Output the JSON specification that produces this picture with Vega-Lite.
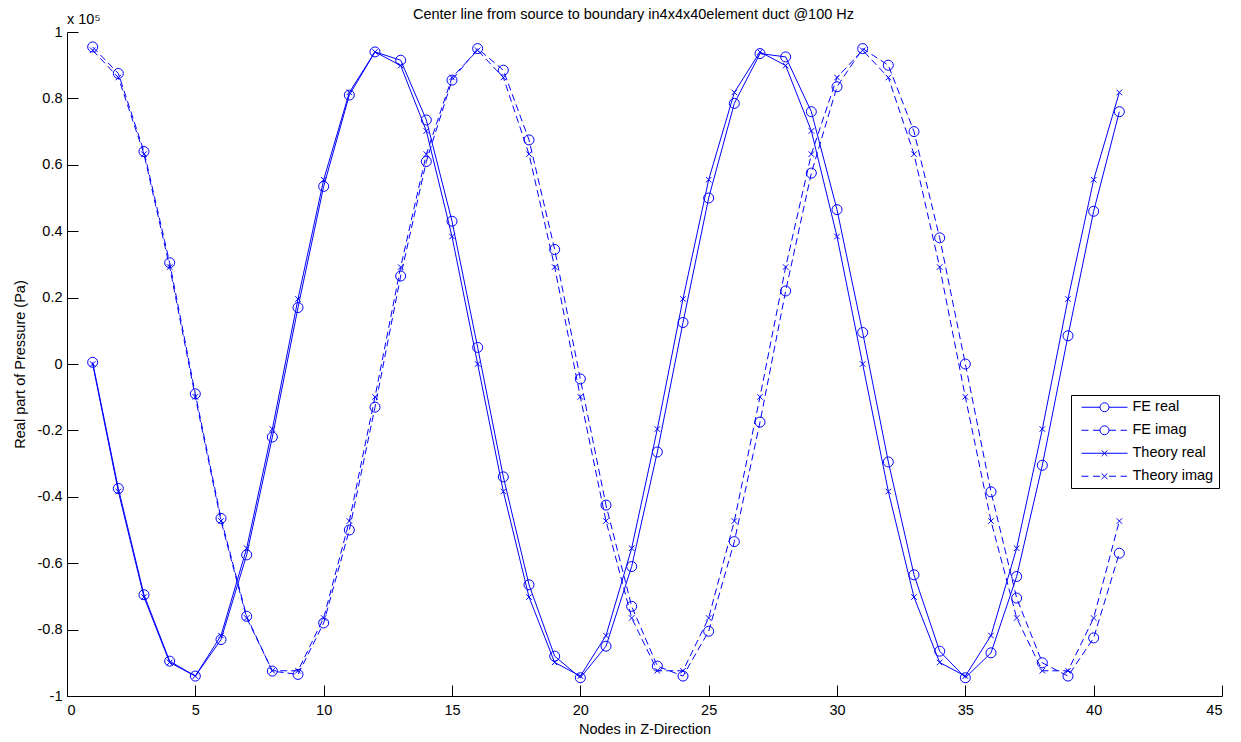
{
  "$schema": "https://vega.github.io/schema/vega-lite/v6.json",
  "autosize": "none",
  "width": 1155,
  "height": 664,
  "padding": {"left": 67, "top": 32, "right": 19, "bottom": 46},
  "background": "white",
  "title": {"text": "Center line from source to boundary in4x4x40element duct @100 Hz", "font": "Liberation Sans", "fontSize": 14.5, "fontWeight": "normal", "color": "black", "baseline": "alphabetic", "offset": -21, "dx": -11},
  "data": {"values": [
    {"node": 1, "FE real": 0.005, "FE imag": 0.955, "Theory real": 0.0, "Theory imag": 0.945},
    {"node": 2, "FE real": -0.375, "FE imag": 0.875, "Theory real": -0.384, "Theory imag": 0.863},
    {"node": 3, "FE real": -0.695, "FE imag": 0.64, "Theory real": -0.702, "Theory imag": 0.632},
    {"node": 4, "FE real": -0.895, "FE imag": 0.305, "Theory real": -0.899, "Theory imag": 0.292},
    {"node": 5, "FE real": -0.94, "FE imag": -0.09, "Theory real": -0.94, "Theory imag": -0.099},
    {"node": 6, "FE real": -0.83, "FE imag": -0.465, "Theory real": -0.818, "Theory imag": -0.473},
    {"node": 7, "FE real": -0.575, "FE imag": -0.76, "Theory real": -0.555, "Theory imag": -0.765},
    {"node": 8, "FE real": -0.22, "FE imag": -0.925, "Theory real": -0.196, "Theory imag": -0.924},
    {"node": 9, "FE real": 0.17, "FE imag": -0.935, "Theory real": 0.196, "Theory imag": -0.924},
    {"node": 10, "FE real": 0.535, "FE imag": -0.78, "Theory real": 0.555, "Theory imag": -0.765},
    {"node": 11, "FE real": 0.81, "FE imag": -0.5, "Theory real": 0.818, "Theory imag": -0.473},
    {"node": 12, "FE real": 0.94, "FE imag": -0.13, "Theory real": 0.94, "Theory imag": -0.099},
    {"node": 13, "FE real": 0.915, "FE imag": 0.265, "Theory real": 0.899, "Theory imag": 0.292},
    {"node": 14, "FE real": 0.735, "FE imag": 0.61, "Theory real": 0.702, "Theory imag": 0.632},
    {"node": 15, "FE real": 0.43, "FE imag": 0.855, "Theory real": 0.384, "Theory imag": 0.863},
    {"node": 16, "FE real": 0.05, "FE imag": 0.95, "Theory real": 0.0, "Theory imag": 0.945},
    {"node": 17, "FE real": -0.34, "FE imag": 0.885, "Theory real": -0.384, "Theory imag": 0.863},
    {"node": 18, "FE real": -0.665, "FE imag": 0.675, "Theory real": -0.702, "Theory imag": 0.632},
    {"node": 19, "FE real": -0.88, "FE imag": 0.345, "Theory real": -0.899, "Theory imag": 0.292},
    {"node": 20, "FE real": -0.945, "FE imag": -0.045, "Theory real": -0.94, "Theory imag": -0.099},
    {"node": 21, "FE real": -0.85, "FE imag": -0.425, "Theory real": -0.818, "Theory imag": -0.473},
    {"node": 22, "FE real": -0.61, "FE imag": -0.73, "Theory real": -0.555, "Theory imag": -0.765},
    {"node": 23, "FE real": -0.265, "FE imag": -0.91, "Theory real": -0.196, "Theory imag": -0.924},
    {"node": 24, "FE real": 0.125, "FE imag": -0.94, "Theory real": 0.196, "Theory imag": -0.924},
    {"node": 25, "FE real": 0.5, "FE imag": -0.805, "Theory real": 0.555, "Theory imag": -0.765},
    {"node": 26, "FE real": 0.785, "FE imag": -0.535, "Theory real": 0.818, "Theory imag": -0.473},
    {"node": 27, "FE real": 0.935, "FE imag": -0.175, "Theory real": 0.94, "Theory imag": -0.099},
    {"node": 28, "FE real": 0.925, "FE imag": 0.22, "Theory real": 0.899, "Theory imag": 0.292},
    {"node": 29, "FE real": 0.76, "FE imag": 0.575, "Theory real": 0.702, "Theory imag": 0.632},
    {"node": 30, "FE real": 0.465, "FE imag": 0.835, "Theory real": 0.384, "Theory imag": 0.863},
    {"node": 31, "FE real": 0.095, "FE imag": 0.95, "Theory real": 0.0, "Theory imag": 0.945},
    {"node": 32, "FE real": -0.295, "FE imag": 0.9, "Theory real": -0.384, "Theory imag": 0.863},
    {"node": 33, "FE real": -0.635, "FE imag": 0.7, "Theory real": -0.702, "Theory imag": 0.632},
    {"node": 34, "FE real": -0.865, "FE imag": 0.38, "Theory real": -0.899, "Theory imag": 0.292},
    {"node": 35, "FE real": -0.945, "FE imag": 0.0, "Theory real": -0.94, "Theory imag": -0.099},
    {"node": 36, "FE real": -0.87, "FE imag": -0.385, "Theory real": -0.818, "Theory imag": -0.473},
    {"node": 37, "FE real": -0.64, "FE imag": -0.705, "Theory real": -0.555, "Theory imag": -0.765},
    {"node": 38, "FE real": -0.305, "FE imag": -0.9, "Theory real": -0.196, "Theory imag": -0.924},
    {"node": 39, "FE real": 0.085, "FE imag": -0.94, "Theory real": 0.196, "Theory imag": -0.924},
    {"node": 40, "FE real": 0.46, "FE imag": -0.825, "Theory real": 0.555, "Theory imag": -0.765},
    {"node": 41, "FE real": 0.76, "FE imag": -0.57, "Theory real": 0.818, "Theory imag": -0.473}
  ]},
  "transform": [{"fold": ["FE real", "FE imag", "Theory real", "Theory imag"], "as": ["series", "value"]}],
  "encoding": {
    "x": {"field": "node", "type": "quantitative", "scale": {"domain": [0, 45], "nice": false, "zero": false}, "axis": {"values": [0, 5, 10, 15, 20, 25, 30, 35, 40, 45], "title": "Nodes in Z-Direction", "labelPadding": 18, "titlePadding": 6}},
    "y": {"field": "value", "type": "quantitative", "scale": {"domain": [-1, 1], "nice": false}, "axis": {"values": [-1, -0.8, -0.6, -0.4, -0.2, 0, 0.2, 0.4, 0.6, 0.8, 1], "format": "~g", "title": "Real part of Pressure (Pa)", "labelPadding": 16, "titlePadding": 10}}
  },
  "layer": [
    {
      "transform": [{"filter": "indexof(datum.series, 'real') > 0"}],
      "mark": {"type": "line", "color": "#0000ff", "strokeWidth": 1},
      "encoding": {"detail": {"field": "series"}}
    },
    {
      "transform": [{"filter": "indexof(datum.series, 'imag') > 0"}],
      "mark": {"type": "line", "color": "#0000ff", "strokeWidth": 1, "strokeDash": [7, 4]},
      "encoding": {"detail": {"field": "series"}}
    },
    {
      "transform": [{"filter": "indexof(datum.series, 'FE') === 0"}],
      "mark": {"type": "point", "shape": "circle", "filled": false, "color": "#0000ff", "size": 100, "strokeWidth": 1, "opacity": 1}
    },
    {
      "transform": [{"filter": "indexof(datum.series, 'Theory') === 0"}],
      "mark": {"type": "point", "shape": "M-1,-1L1,1M-1,1L1,-1", "filled": false, "color": "#0000ff", "size": 30, "strokeWidth": 1, "opacity": 1}
    },
    {
      "mark": {"type": "point", "filled": false, "color": "#0000ff", "opacity": 0, "strokeWidth": 1},
      "encoding": {
        "shape": {"field": "series", "type": "nominal",
          "scale": {"domain": ["FE real", "FE imag", "Theory real", "Theory imag"],
            "range": [
              "M-0.3,0H2.92M4.48,0H7.7M4.48,0A0.78,0.78,0,1,1,2.92,0A0.78,0.78,0,1,1,4.48,0",
              "M-0.3,0H0.9M1.7,0H2.92M4.48,0H5.7M6.5,0H7.6M4.48,0A0.78,0.78,0,1,1,2.92,0A0.78,0.78,0,1,1,4.48,0",
              "M-0.3,0H7.7M3.2,-0.5L4.2,0.5M3.2,0.5L4.2,-0.5",
              "M-0.3,0H0.9M1.7,0H2.9M4.5,0H5.7M6.5,0H7.6M3.2,-0.5L4.2,0.5M3.2,0.5L4.2,-0.5"
            ]},
          "legend": {"title": null, "orient": "none", "legendX": 1004, "legendY": 363, "symbolSize": 132, "symbolStrokeWidth": 1, "symbolStrokeColor": "#0000ff", "symbolFillColor": "transparent", "symbolOpacity": 1, "labelOffset": 42, "labelFont": "Liberation Sans", "labelFontSize": 14.5, "labelColor": "black", "strokeColor": "black", "fillColor": "white", "padding": 5, "rowPadding": 8}
        }
      }
    },
    {
      "transform": [{"filter": "datum.node === 1 && datum.series === 'FE real'"}],
      "mark": {"type": "text", "text": "x 10⁵", "align": "left", "baseline": "alphabetic", "dy": -8, "font": "Liberation Sans", "fontSize": 14.5, "color": "black"},
      "encoding": {"x": {"datum": 0}, "y": {"datum": 1}}
    }
  ],
  "config": {
    "view": {"stroke": null},
    "locale": {"number": {"decimal": ".", "thousands": ",", "grouping": [3], "currency": ["$", ""], "minus": "-"}},
    "axis": {"grid": false, "domainColor": "black", "tickColor": "black", "labelColor": "black", "titleColor": "black", "labelFont": "Liberation Sans", "titleFont": "Liberation Sans", "labelFontSize": 14.5, "titleFontSize": 14.5, "titleFontWeight": "normal", "tickSize": -11, "domainWidth": 1, "tickWidth": 1}
  }
}
